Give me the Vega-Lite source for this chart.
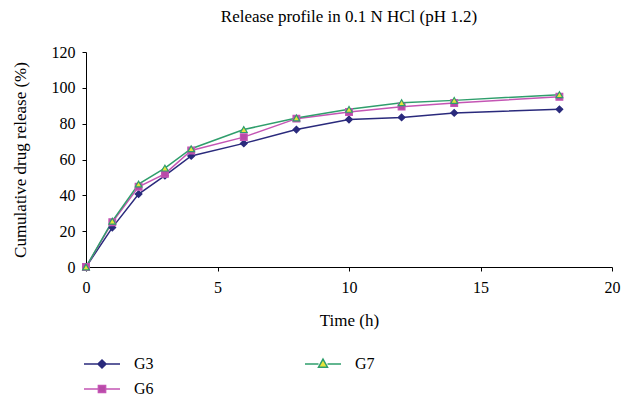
{
  "$schema": "https://vega.github.io/schema/vega-lite/v6.json",
  "width": 526,
  "height": 215,
  "autosize": {"type": "none"},
  "padding": {"left": 86, "top": 52, "right": 12, "bottom": 131},
  "background": "white",
  "title": {
    "text": "Release profile in 0.1 N HCl (pH 1.2)",
    "font": "Liberation Serif",
    "fontSize": 17,
    "fontWeight": "normal",
    "color": "black",
    "anchor": "middle",
    "offset": 18
  },
  "config": {
    "view": {"stroke": null},
    "axis": {
      "labelFont": "Liberation Serif",
      "labelFontSize": 16,
      "labelColor": "black",
      "titleFont": "Liberation Serif",
      "titleFontSize": 17,
      "titleFontWeight": "normal",
      "titleColor": "black",
      "domainColor": "black",
      "tickColor": "black",
      "tickSize": 4,
      "grid": false
    }
  },
  "data": {
    "values": [
      {"time": 0, "series": "G3", "release": 0},
      {"time": 1, "series": "G3", "release": 22},
      {"time": 2, "series": "G3", "release": 40.7},
      {"time": 3, "series": "G3", "release": 51},
      {"time": 4, "series": "G3", "release": 62},
      {"time": 6, "series": "G3", "release": 69},
      {"time": 8, "series": "G3", "release": 76.7},
      {"time": 10, "series": "G3", "release": 82.3},
      {"time": 12, "series": "G3", "release": 83.5},
      {"time": 14, "series": "G3", "release": 86},
      {"time": 18, "series": "G3", "release": 88},
      {"time": 0, "series": "G6", "release": 0},
      {"time": 1, "series": "G6", "release": 25},
      {"time": 2, "series": "G6", "release": 44.8},
      {"time": 3, "series": "G6", "release": 52},
      {"time": 4, "series": "G6", "release": 65},
      {"time": 6, "series": "G6", "release": 72.5},
      {"time": 8, "series": "G6", "release": 82.8},
      {"time": 10, "series": "G6", "release": 86.5},
      {"time": 12, "series": "G6", "release": 89.5},
      {"time": 14, "series": "G6", "release": 91.5},
      {"time": 18, "series": "G6", "release": 95},
      {"time": 0, "series": "G7", "release": 0},
      {"time": 1, "series": "G7", "release": 25.6},
      {"time": 2, "series": "G7", "release": 46.3},
      {"time": 3, "series": "G7", "release": 55.2},
      {"time": 4, "series": "G7", "release": 66},
      {"time": 6, "series": "G7", "release": 76.7},
      {"time": 8, "series": "G7", "release": 83.2},
      {"time": 10, "series": "G7", "release": 88},
      {"time": 12, "series": "G7", "release": 91.7},
      {"time": 14, "series": "G7", "release": 93},
      {"time": 18, "series": "G7", "release": 96.2}
    ]
  },
  "encoding": {
    "x": {
      "field": "time",
      "type": "quantitative",
      "scale": {"domain": [0, 20], "nice": false},
      "axis": {"values": [0, 5, 10, 15, 20], "title": "Time (h)", "labelPadding": 8, "titlePadding": 17, "labelFlush": false}
    },
    "y": {
      "field": "release",
      "type": "quantitative",
      "scale": {"domain": [0, 120], "nice": false},
      "axis": {"values": [0, 20, 40, 60, 80, 100, 120], "title": "Cumulative drug release (%)", "labelPadding": 7, "titlePadding": 22}
    }
  },
  "resolve": {"legend": {"stroke": "independent"}},
  "layer": [
    {
      "mark": {"type": "line", "strokeWidth": 1.5},
      "encoding": {
        "stroke": {
          "field": "series",
          "type": "nominal",
          "scale": {"domain": ["G3", "G6", "G7"], "range": ["#2a2a7c", "#c455b4", "#2f9e6c"]},
          "legend": {
            "title": null,
            "orient": "none",
            "legendX": 6,
            "legendY": 302,
            "columns": 2,
            "columnPadding": 148,
            "rowPadding": 7,
            "padding": 0,
            "symbolSize": 324,
            "labelOffset": 22,
            "labelFont": "Liberation Serif",
            "labelFontSize": 16,
            "labelColor": "black",
            "encode": {
              "symbols": {
                "update": {
                  "shape": {"signal": "datum.value === 'G3' ? 'M-2,0H-0.45M0.45,0H2M0,-0.45L0.45,0L0,0.45L-0.45,0Z' : datum.value === 'G6' ? 'M-2,0H-0.4M0.4,0H2M-0.4,-0.4H0.4V0.4H-0.4Z' : 'M-2,0H-0.5M0.5,0H2M0,-0.55L0.5,0.35H-0.5Z'"},
                  "fill": {"signal": "datum.value === 'G3' ? '#2a2a7c' : datum.value === 'G6' ? '#b84aa8' : '#e8e43c'"},
                  "strokeWidth": {"value": 1.5},
                  "opacity": {"value": 1}
                }
              }
            }
          }
        }
      }
    },
    {
      "mark": {"type": "point", "filled": true, "size": 45, "strokeWidth": 1.2, "opacity": 1},
      "encoding": {
        "stroke": {"field": "series", "type": "nominal", "legend": null},
        "fill": {
          "field": "series",
          "type": "nominal",
          "scale": {"domain": ["G3", "G6", "G7"], "range": ["#2a2a7c", "#b84aa8", "#e8e43c"]},
          "legend": null
        },
        "shape": {
          "field": "series",
          "type": "nominal",
          "scale": {"domain": ["G3", "G6", "G7"], "range": ["diamond", "square", "triangle-up"]},
          "legend": null
        }
      }
    }
  ]
}
